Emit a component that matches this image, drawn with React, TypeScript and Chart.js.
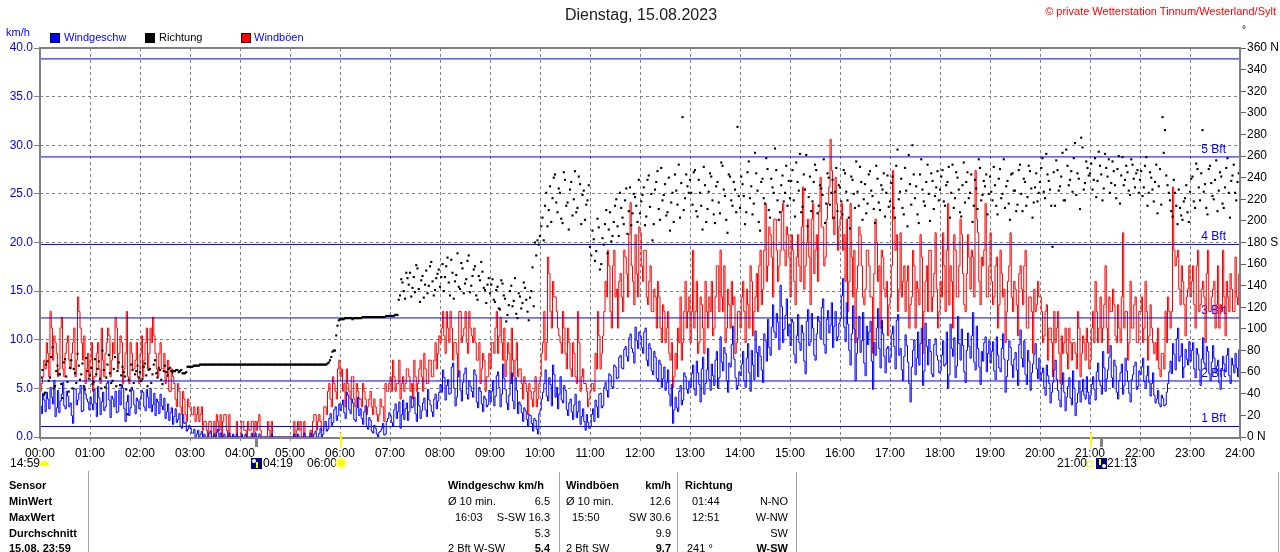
import React, { useEffect, useRef } from 'react';
import { Chart, registerables } from 'chart.js';

Chart.register(...registerables);

// ---------- DATA ----------
// Samples every 3 minutes (00:00, 00:03, ...) plus the readings taken
// half-way in between (00:01:30, 00:04:30, ...).
const STEP_MIN = 3;

// Windgeschwindigkeit km/h (full 3-minute marks)
const windSpeed: number[] = [
  3.2, 4.5, 2.6, 3.9, 5.1, 3.4, 2.1, 4.8, 3.7, 5.6, 2.9, 4.2, 3.5, 1.4, 4.9, 3.8, 5.3, 2.7, 4.4, 3.6,
  4.1, 2.8, 3.5, 5.2, 2.3, 4.6, 3.1, 5.7, 2.0, 3.9, 4.7, 2.6, 3.3, 5.0, 1.6, 4.3, 3.0, 4.8, 2.4, 3.7,
  3.9, 4.6, 2.7, 4.1, 5.0, 3.3, 2.2, 3.6, 4.4, 2.8, 1.9, 3.4, 2.5, 1.3, 2.9, 1.8, 1.1, 2.3, 1.5, 0.8,
  0.9, 0.4, 0.0, 0.7, 0.3, 0.0, 0.0, 0.0, 0.6, 0.0, 0.0, 0.8, 0.4, 0.0, 0.0, 0.0, 0.0, 0.3, 0.0, 0.0,
  0.0, 0.0, 0.3, 0.0, 0.0, 0.0, 0.4, 0.0, 0.0, 0.0, 0.0, 0.0, 0.0, 0.0, 0.0, 0.0, 0.0, 0.0, 0.0, 0.0,
  0.0, 0.0, 0.0, 0.3, 0.0, 0.0, 0.0, 0.0, 0.4, 0.0, 0.6, 0.0, 0.9, 0.3, 1.6, 0.8, 2.4, 1.5, 3.1, 2.2,
  2.7, 3.8, 1.9, 4.3, 2.4, 3.5, 1.6, 4.1, 2.9, 1.3, 3.2, 0.8, 1.7, 0.4, 0.9, 0.0, 0.6, 1.4, 0.3, 1.9,
  2.2, 1.1, 3.4, 2.6, 0.9, 3.8, 2.9, 1.7, 4.2, 3.1, 2.4, 4.6, 1.9, 3.5, 2.8, 4.9, 3.3, 2.1, 4.4, 3.7,
  5.4, 6.9, 3.8, 5.9, 4.5, 7.6, 3.2, 6.2, 4.8, 5.6, 7.1, 3.9, 5.2, 4.1, 6.4, 3.0, 4.7, 2.6, 3.9, 3.3,
  3.6, 5.8, 4.2, 6.7, 3.1, 7.5, 4.9, 2.8, 5.5, 3.7, 6.1, 2.4, 3.3, 1.6, 2.7, 1.1, 2.2, 0.6, 1.7, 0.3,
  2.8, 4.6, 6.9, 3.7, 5.4, 7.4, 4.1, 2.9, 6.2, 3.5, 4.8, 2.2, 3.9, 1.8, 4.4, 2.6, 1.3, 2.9, 0.7, 1.5,
  1.1, 2.9, 3.8, 2.0, 4.5, 3.2, 5.6, 4.1, 6.3, 5.0, 7.2, 6.1, 8.4, 7.0, 9.3, 7.8, 10.6, 8.7, 11.3, 9.1,
  10.4, 8.6, 11.2, 7.3, 9.1, 6.4, 8.2, 5.7, 7.5, 6.0, 4.8, 6.9, 3.2, 1.4, 4.1, 2.6, 5.3, 3.8, 6.2, 4.5,
  5.1, 7.4, 4.3, 6.6, 3.6, 8.2, 5.5, 9.1, 4.8, 6.3, 7.9, 5.0, 10.3, 6.8, 8.6, 4.6, 7.2, 11.4, 6.1, 5.3,
  6.3, 8.8, 5.1, 9.6, 4.7, 7.4, 10.9, 6.2, 8.3, 5.6, 9.9, 12.1, 8.4, 13.6, 10.2, 11.8, 15.6, 9.7, 12.5, 10.4,
  9.4, 11.8, 7.6, 12.6, 8.9, 10.7, 6.5, 13.1, 9.8, 11.2, 7.9, 12.4, 10.1, 14.2, 8.6, 13.0, 11.5, 9.2, 12.9, 10.3,
  12.2, 16.3, 9.8, 11.6, 7.4, 13.5, 5.8, 10.2, 8.7, 12.8, 6.3, 9.5, 11.9, 4.9, 8.4, 13.2, 7.1, 10.6, 6.6, 9.3,
  8.2, 11.4, 7.0, 12.6, 9.1, 5.8, 10.5, 7.7, 3.6, 8.9, 6.4, 10.8, 9.6, 5.3, 11.7, 7.4, 8.8, 6.2, 10.1, 7.9,
  6.8, 9.9, 7.5, 5.0, 11.6, 8.3, 6.1, 12.4, 7.9, 9.4, 5.6, 10.7, 8.1, 12.8, 6.9, 9.1, 5.4, 7.8, 10.3, 8.6,
  7.6, 9.8, 5.9, 8.4, 6.7, 10.6, 4.6, 7.9, 9.2, 6.1, 8.7, 5.3, 11.0, 7.2, 6.4, 8.9, 4.8, 7.5, 9.6, 6.0,
  5.8, 7.1, 4.3, 6.3, 3.5, 5.6, 7.9, 4.8, 3.1, 6.6, 2.7, 5.2, 4.0, 6.8, 2.2, 4.5, 3.6, 5.9, 3.9, 4.6,
  4.3, 6.2, 3.8, 7.6, 5.3, 8.8, 4.7, 6.9, 9.4, 5.1, 7.3, 3.9, 6.6, 4.4, 8.1, 5.7, 3.6, 6.4, 7.7, 5.2,
  6.4, 8.1, 5.0, 7.3, 4.2, 6.6, 3.5, 4.8, 3.1, 4.0, 3.3, 5.5, 7.8, 9.6, 6.9, 11.2, 8.3, 6.1, 9.0, 7.4,
  7.8, 9.7, 6.1, 8.5, 5.3, 10.2, 7.0, 8.8, 5.8, 9.4, 6.6, 7.9, 4.9, 8.3, 6.7, 9.1, 5.5, 7.4, 8.6, 6.2,
];

// Windgeschwindigkeit km/h (half-way readings)
const windSpeedMid: number[] = [
  2.4, 3.8, 4.6, 2.9, 4.1, 5.8, 3.0, 2.5, 4.4, 3.2, 4.7, 3.1, 2.2, 5.0, 3.3, 4.5, 2.6, 5.2, 3.9, 2.8,
  3.4, 4.9, 2.1, 4.0, 3.6, 2.7, 5.5, 3.8, 4.2, 3.1, 2.5, 4.8, 5.4, 2.9, 3.6, 2.2, 5.1, 3.3, 4.0, 2.9,
  4.8, 3.1, 4.9, 3.0, 2.6, 4.5, 3.9, 2.4, 3.2, 4.0, 2.6, 1.7, 3.0, 2.1, 1.5, 2.4, 0.9, 1.4, 0.6, 1.2,
  0.4, 0.8, 0.3, 0.0, 0.6, 0.3, 0.0, 0.4, 0.0, 0.3, 0.5, 0.0, 0.0, 0.3, 0.0, 0.4, 0.0, 0.0, 0.3, 0.0,
  0.3, 0.0, 0.0, 0.0, 0.4, 0.0, 0.0, 0.3, 0.0, 0.0, 0.0, 0.0, 0.3, 0.0, 0.0, 0.0, 0.0, 0.0, 0.0, 0.0,
  0.0, 0.3, 0.0, 0.0, 0.0, 0.4, 0.0, 0.0, 0.0, 0.3, 0.0, 0.4, 0.0, 1.1, 0.6, 1.9, 1.2, 2.8, 1.7, 3.4,
  3.3, 2.5, 4.6, 2.8, 3.9, 1.8, 3.0, 2.2, 1.9, 2.6, 1.1, 2.0, 0.6, 1.2, 0.3, 0.5, 0.9, 0.2, 1.6, 2.5,
  1.5, 2.8, 1.9, 3.6, 2.3, 1.8, 3.5, 2.6, 3.0, 4.1, 1.6, 3.2, 2.7, 4.0, 2.1, 3.8, 2.6, 3.9, 2.9, 4.6,
  4.6, 6.1, 5.3, 4.4, 7.2, 5.0, 4.1, 6.8, 3.7, 6.5, 4.4, 5.8, 4.7, 6.9, 3.6, 5.1, 3.4, 4.2, 3.1, 4.8,
  4.7, 3.2, 6.3, 5.1, 4.4, 6.0, 3.5, 4.3, 6.6, 2.9, 4.8, 3.6, 2.5, 3.0, 1.8, 2.3, 1.4, 1.9, 0.8, 2.4,
  3.9, 5.5, 4.2, 6.1, 3.2, 6.4, 5.1, 4.4, 3.8, 5.3, 2.8, 3.5, 2.6, 3.3, 2.0, 3.7, 2.1, 1.6, 2.3, 0.9,
  2.3, 1.6, 3.1, 4.4, 3.0, 5.1, 4.8, 6.5, 5.2, 7.4, 6.0, 8.2, 7.1, 9.0, 8.3, 10.2, 9.1, 7.6, 9.9, 10.8,
  9.2, 10.8, 7.9, 9.6, 6.8, 8.8, 6.0, 7.9, 5.1, 7.2, 5.6, 4.4, 5.4, 2.8, 3.0, 4.7, 3.3, 6.6, 4.9, 5.7,
  6.5, 4.9, 7.8, 5.4, 7.0, 4.4, 6.9, 5.9, 7.5, 5.3, 8.8, 6.1, 7.7, 9.2, 5.8, 7.6, 9.5, 8.0, 4.9, 6.7,
  7.5, 5.8, 8.1, 6.6, 8.9, 5.9, 8.7, 9.3, 6.9, 10.6, 7.8, 9.2, 11.3, 10.8, 12.7, 9.0, 13.4, 11.1, 14.2, 11.6,
  12.1, 8.5, 10.4, 9.7, 11.5, 7.8, 11.9, 9.4, 12.7, 8.4, 10.6, 11.9, 13.3, 9.5, 12.1, 10.7, 13.8, 11.4, 9.9, 11.7,
  14.5, 11.3, 13.8, 8.9, 10.6, 11.1, 8.6, 12.4, 9.9, 7.6, 11.4, 10.8, 7.8, 9.7, 11.2, 9.1, 12.0, 8.3, 9.1, 7.7,
  10.6, 9.3, 12.0, 8.4, 6.9, 8.3, 9.4, 5.5, 7.2, 10.0, 8.1, 7.4, 11.2, 6.8, 9.3, 10.0, 6.5, 9.5, 8.4, 6.6,
  8.4, 7.3, 10.8, 6.4, 9.1, 10.2, 7.3, 9.6, 11.1, 6.7, 8.9, 9.3, 10.4, 7.7, 11.4, 7.2, 8.8, 9.7, 6.7, 9.9,
  8.8, 6.8, 10.3, 7.1, 9.1, 8.0, 6.2, 9.9, 7.4, 8.0, 6.9, 9.5, 8.1, 9.9, 5.4, 7.8, 6.6, 8.5, 7.0, 8.1,
  6.6, 5.1, 7.4, 5.5, 4.6, 6.9, 5.9, 3.8, 5.4, 4.6, 4.1, 6.1, 3.3, 5.0, 3.5, 5.7, 4.7, 4.3, 6.2, 3.4,
  5.4, 4.9, 6.7, 5.8, 4.4, 7.1, 6.0, 8.2, 6.1, 7.9, 4.6, 5.8, 7.5, 5.3, 6.8, 4.5, 5.9, 7.3, 4.9, 6.8,
  7.2, 5.7, 6.3, 5.6, 5.5, 4.3, 3.9, 3.4, 4.3, 3.2, 4.6, 6.7, 6.5, 8.5, 10.1, 7.8, 9.6, 7.2, 8.0, 9.8,
  8.9, 7.0, 9.1, 6.9, 8.0, 7.6, 9.3, 6.5, 7.7, 8.1, 7.3, 5.6, 6.9, 7.5, 8.4, 6.3, 8.1, 6.6, 7.1, 9.0,
];

// Windböen km/h (full 3-minute marks)
const windGust: number[] = [
  4.7, 6.2, 7.0, 8.6, 12.9, 7.9, 9.7, 6.2, 11.2, 7.0, 8.6, 10.4, 7.0, 9.7, 6.2, 14.4, 11.2, 7.9, 5.5, 8.6,
  7.9, 4.7, 6.2, 9.7, 5.5, 7.9, 8.6, 11.2, 6.2, 9.7, 12.3, 7.0, 10.4, 5.5, 8.6, 6.2, 9.7, 7.0, 7.9, 6.2,
  8.6, 6.2, 9.7, 7.0, 11.2, 12.3, 8.6, 6.2, 9.7, 7.0, 5.5, 7.9, 4.7, 6.2, 3.9, 5.5, 3.1, 4.7, 2.3, 3.9,
  3.1, 2.3, 1.6, 3.1, 2.3, 0.7, 1.6, 0.0, 1.6, 0.0, 0.0, 1.6, 2.3, 1.6, 2.3, 0.0, 0.0, 0.0, 0.0, 0.0,
  0.0, 1.6, 0.7, 1.6, 0.7, 1.6, 1.6, 1.6, 0.7, 0.0, 0.0, 1.6, 0.0, 0.0, 0.0, 0.0, 0.0, 0.0, 0.0, 0.0,
  0.0, 0.0, 0.0, 1.6, 1.6, 0.0, 0.0, 0.0, 0.7, 1.6, 2.3, 1.6, 1.6, 0.7, 3.1, 4.7, 3.9, 6.2, 4.7, 7.0,
  6.2, 4.7, 3.1, 5.5, 3.9, 6.2, 3.1, 4.7, 3.9, 5.5, 3.9, 3.1, 4.7, 2.3, 3.1, 1.6, 3.9, 3.1, 5.5, 4.7,
  6.2, 7.9, 4.7, 5.5, 3.9, 6.2, 5.5, 7.0, 4.7, 3.9, 6.2, 5.5, 7.9, 4.7, 7.0, 5.5, 7.9, 6.2, 9.7, 8.6,
  9.7, 12.9, 8.6, 11.2, 12.9, 7.9, 9.7, 6.2, 12.9, 10.4, 12.9, 8.6, 11.2, 9.7, 9.7, 7.9, 5.5, 8.6, 4.7, 6.2,
  7.0, 9.7, 11.2, 8.6, 12.3, 7.9, 6.2, 9.7, 5.5, 7.9, 7.9, 6.2, 7.0, 3.9, 5.5, 2.3, 4.7, 3.1, 6.2, 3.9,
  6.2, 9.7, 7.9, 18.5, 12.9, 16.0, 14.4, 11.2, 9.7, 12.9, 8.6, 11.2, 7.0, 9.7, 6.2, 12.9, 4.7, 7.0, 5.5, 3.1,
  4.7, 5.5, 8.6, 12.9, 7.0, 10.4, 16.0, 19.2, 12.9, 17.6, 14.4, 11.2, 16.8, 12.9, 18.5, 14.4, 24.1, 16.0, 20.8, 14.4,
  21.0, 16.0, 19.2, 13.6, 17.6, 12.9, 14.4, 16.0, 11.2, 13.6, 9.7, 12.9, 7.9, 5.1, 8.6, 11.2, 14.4, 9.7, 16.0, 12.9,
  9.7, 19.2, 12.9, 8.6, 14.4, 11.2, 16.0, 11.2, 12.9, 10.4, 14.4, 17.6, 19.2, 12.9, 9.7, 15.2, 11.2, 13.6, 8.6, 12.9,
  11.2, 16.0, 9.7, 13.6, 17.6, 10.4, 14.4, 12.9, 19.2, 15.2, 24.0, 17.6, 20.8, 14.4, 22.4, 16.0, 19.2, 24.0, 17.6, 20.8,
  14.4, 19.2, 13.6, 20.8, 16.0, 25.7, 17.6, 22.4, 13.6, 24.0, 19.2, 16.0, 26.7, 21.6, 18.5, 24.0, 30.6, 22.4, 26.7, 19.2,
  22.4, 19.2, 16.0, 12.9, 24.0, 14.4, 9.7, 17.6, 20.8, 14.4, 15.2, 19.2, 14.4, 8.6, 22.4, 16.0, 11.2, 18.5, 14.4, 10.4,
  14.4, 27.4, 19.2, 12.9, 21.0, 16.0, 12.9, 17.6, 13.6, 19.2, 11.2, 15.2, 20.8, 8.6, 16.0, 12.9, 19.2, 14.4, 21.0, 11.2,
  16.0, 21.0, 12.9, 24.0, 17.6, 11.2, 19.2, 14.4, 22.4, 16.8, 12.9, 20.8, 15.2, 18.5, 27.4, 21.0, 13.6, 17.6, 24.0, 14.4,
  21.0, 13.6, 17.6, 11.2, 19.2, 14.4, 9.7, 16.0, 21.0, 12.9, 15.2, 10.4, 17.6, 13.6, 19.2, 11.2, 14.4, 8.6, 12.9, 16.0,
  14.4, 9.7, 12.9, 7.9, 11.2, 6.2, 9.7, 12.9, 5.5, 8.6, 11.2, 7.0, 9.7, 9.7, 8.6, 12.9, 6.2, 10.4, 7.9, 9.7,
  7.9, 12.9, 16.0, 9.7, 14.4, 11.2, 17.6, 8.6, 12.9, 15.2, 10.4, 13.6, 9.7, 21.0, 12.9, 7.9, 16.0, 11.2, 14.4, 9.7,
  12.9, 9.7, 16.0, 7.9, 13.6, 9.7, 9.7, 11.2, 6.2, 8.6, 12.9, 14.4, 11.2, 25.7, 17.6, 19.2, 13.6, 16.0, 10.4, 15.2,
  14.4, 17.6, 11.2, 19.2, 13.6, 16.0, 9.7, 19.2, 12.9, 15.2, 11.2, 17.6, 13.6, 19.2, 10.4, 14.4, 16.8, 12.9, 18.5, 13.6,
];

// Windböen km/h (half-way readings)
const windGustMid: number[] = [
  5.5, 7.9, 9.7, 6.2, 11.2, 10.4, 8.6, 7.0, 12.3, 6.2, 9.7, 7.9, 8.6, 11.2, 7.9, 12.9, 9.7, 10.4, 7.0, 6.2,
  9.7, 6.2, 8.6, 7.0, 11.2, 6.2, 9.7, 10.4, 7.9, 8.6, 11.2, 8.6, 9.7, 7.0, 12.9, 5.5, 8.6, 7.0, 9.7, 5.5,
  10.4, 7.9, 11.2, 8.6, 9.7, 10.4, 7.0, 8.6, 7.0, 8.6, 6.2, 4.7, 7.0, 5.5, 3.1, 4.7, 2.3, 3.9, 1.6, 3.1,
  2.3, 3.1, 2.3, 1.6, 3.1, 1.6, 0.7, 1.6, 0.0, 1.6, 2.3, 0.7, 0.0, 2.3, 0.7, 2.3, 0.0, 0.0, 1.6, 0.0,
  1.6, 0.7, 0.0, 0.7, 1.6, 0.0, 0.7, 2.3, 0.0, 0.0, 0.0, 0.7, 1.6, 0.0, 0.0, 0.0, 0.0, 0.0, 0.0, 0.0,
  0.0, 1.6, 0.7, 0.7, 0.0, 1.6, 0.0, 0.0, 0.0, 2.3, 0.7, 2.3, 0.7, 3.1, 2.3, 5.5, 3.1, 5.5, 3.9, 7.9,
  7.0, 5.5, 7.0, 4.7, 6.2, 3.9, 5.5, 3.9, 3.1, 4.7, 2.3, 3.9, 3.1, 3.9, 2.3, 2.3, 3.1, 1.6, 4.7, 5.5,
  4.7, 6.2, 5.5, 7.9, 5.5, 4.7, 7.0, 6.2, 5.5, 7.9, 4.7, 7.0, 6.2, 8.6, 5.5, 7.9, 6.2, 7.9, 7.0, 10.4,
  11.2, 10.4, 12.9, 9.7, 11.2, 9.7, 8.6, 12.9, 9.7, 11.2, 9.7, 12.9, 10.4, 11.2, 7.9, 9.7, 7.0, 7.9, 6.2, 8.6,
  9.7, 8.6, 12.9, 10.4, 9.7, 11.2, 7.9, 8.6, 11.2, 6.2, 9.7, 7.0, 5.5, 6.2, 4.7, 5.5, 3.9, 4.7, 3.1, 5.5,
  8.6, 12.9, 9.7, 16.8, 11.2, 14.4, 12.9, 10.4, 8.6, 11.2, 7.0, 9.7, 6.2, 8.6, 5.5, 9.7, 6.2, 5.5, 4.7, 3.9,
  5.5, 4.7, 7.0, 10.4, 8.6, 12.9, 14.4, 17.6, 11.2, 19.2, 15.2, 16.0, 14.4, 19.2, 16.8, 20.8, 17.6, 13.6, 16.8, 21.6,
  17.6, 19.2, 14.4, 16.0, 12.9, 15.2, 11.2, 14.4, 9.7, 12.9, 11.2, 8.6, 9.7, 6.2, 7.0, 9.7, 7.9, 12.9, 11.2, 14.4,
  12.9, 11.2, 16.0, 9.7, 13.6, 8.6, 12.9, 14.4, 16.0, 11.2, 17.6, 12.9, 14.4, 17.6, 11.2, 13.6, 16.0, 14.4, 9.7, 12.9,
  14.4, 12.9, 15.2, 11.2, 16.0, 12.9, 16.8, 17.6, 13.6, 19.2, 16.0, 21.6, 18.5, 22.4, 19.2, 17.6, 23.2, 19.2, 21.6, 18.5,
  20.8, 16.0, 18.5, 17.6, 21.6, 15.2, 20.0, 18.5, 22.4, 16.8, 20.8, 23.2, 21.6, 17.6, 22.4, 25.7, 27.4, 20.8, 24.0, 21.6,
  24.0, 20.8, 22.4, 16.0, 18.5, 19.2, 15.2, 21.6, 17.6, 13.6, 19.2, 17.6, 14.4, 16.8, 20.0, 17.6, 19.2, 15.2, 16.0, 13.6,
  17.6, 22.4, 20.8, 15.2, 14.4, 17.6, 16.0, 11.2, 14.4, 17.6, 16.0, 13.6, 18.5, 12.9, 17.6, 19.2, 12.9, 16.8, 15.2, 12.9,
  14.4, 17.6, 19.2, 13.6, 16.0, 20.8, 14.4, 17.6, 20.8, 13.6, 16.8, 18.5, 19.2, 14.4, 22.4, 16.0, 18.5, 19.2, 14.4, 17.6,
  16.0, 14.4, 18.5, 13.6, 16.8, 15.2, 12.9, 17.6, 14.4, 16.0, 13.6, 16.8, 15.2, 17.6, 11.2, 14.4, 12.9, 15.2, 13.6, 14.4,
  12.9, 10.4, 13.6, 11.2, 9.7, 12.9, 11.2, 8.6, 10.4, 9.7, 8.6, 11.2, 7.9, 9.7, 7.0, 11.2, 8.6, 9.7, 11.2, 7.0,
  11.2, 9.7, 12.9, 11.2, 9.7, 13.6, 11.2, 14.4, 12.9, 13.6, 9.7, 11.2, 14.4, 11.2, 12.9, 9.7, 11.2, 13.6, 9.7, 12.9,
  14.4, 11.2, 12.9, 10.4, 11.2, 8.6, 7.9, 7.0, 8.6, 7.0, 9.7, 12.9, 12.9, 19.2, 18.5, 15.2, 17.6, 13.6, 14.4, 17.6,
  16.0, 13.6, 17.6, 12.9, 15.2, 14.4, 16.8, 12.9, 14.4, 16.0, 13.6, 11.2, 12.9, 14.4, 16.0, 12.9, 15.2, 12.9, 14.4, 16.8,
];

// Windrichtung Grad (full 3-minute marks)
const windDir: number[] = [
  48, 62, 41, 70, 55, 83, 47, 66, 58, 36, 72, 51, 64, 45, 59, 77, 53, 68, 44, 61,
  57, 49, 72, 63, 54, 80, 46, 67, 59, 52, 74, 61, 48, 65, 56, 21, 43, 62, 58, 66,
  60, 54, 68, 47, 63, 58, 71, 55, 62, 49, 66, 57, 64, 60, 61, 62, 61, 59, 59, 65,
  65, 65, 66, 66, 67, 67, 67, 67, 67, 67, 67, 67, 67, 67, 67, 67, 67, 67, 67, 67,
  67, 67, 67, 67, 67, 67, 67, 67, 67, 67, 67, 67, 67, 67, 67, 67, 67, 67, 67, 67,
  67, 67, 67, 67, 67, 67, 67, 67, 67, 67, 67, 67, 67, 67, 67, 68, 71, 79, 80, 103,
  109, 109, 110, 110, 110, 109, 110, 110, 110, 111, 111, 111, 111, 111, 111, 111, 111, 111, 111, 112,
  112, 112, 113, 113, 131, 143, 128, 147, 152, 138, 134, 156, 125, 149, 141, 133, 158, 144, 136, 151,
  139, 160, 148, 166, 131, 152, 144, 170, 137, 156, 142, 163, 134, 149, 158, 127, 145, 153, 136, 141,
  133, 146, 125, 139, 118, 142, 128, 113, 135, 121, 147, 110, 130, 124, 138, 116, 129, 157, 180, 182,
  186, 203, 214, 195, 232, 221, 243, 208, 226, 198, 238, 217, 229, 205, 246, 212, 234, 224, 201, 219,
  176, 191, 163, 202, 155, 184, 197, 170, 208, 186, 214, 195, 226, 203, 219, 188, 231, 207, 222, 199,
  207, 224, 196, 238, 213, 182, 229, 246, 201, 219, 234, 208, 191, 226, 243, 215, 203, 296, 221, 232,
  238, 215, 247, 204, 226, 192, 233, 211, 244, 219, 198, 236, 207, 251, 223, 189, 241, 214, 229, 287,
  212, 234, 197, 245, 221, 206, 263, 228, 191, 239, 216, 248, 203, 231, 267, 219, 208, 242, 226, 214,
  221, 247, 204, 236, 262, 213, 229, 195, 241, 218, 252, 207, 233, 224, 198, 244, 215, 238, 227, 209,
  231, 206, 244, 219, 193, 238, 212, 227, 250, 201, 234, 216, 246, 223, 198, 239, 210, 229, 204, 242,
  218, 241, 203, 266, 227, 212, 249, 195, 234, 270, 221, 206, 243, 229, 214, 252, 200, 237, 223, 246,
  229, 247, 214, 236, 203, 252, 221, 240, 208, 233, 217, 245, 226, 199, 238, 211, 249, 224, 232, 206,
  241, 219, 233, 206, 248, 225, 212, 237, 201, 244, 228, 215, 252, 209, 236, 222, 246, 203, 231, 218,
  236, 258, 221, 243, 229, 176, 214, 247, 232, 263, 219, 251, 238, 227, 272, 244, 211, 268, 235, 249,
  244, 229, 258, 237, 251, 219, 262, 241, 226, 255, 233, 248, 216, 259, 238, 245, 224, 252, 231, 247,
  238, 223, 251, 214, 245, 229, 236, 207, 248, 296, 284, 233, 219, 204, 226, 197, 212, 201, 221, 208,
  227, 241, 212, 248, 219, 284, 234, 206, 251, 223, 238, 209, 245, 216, 231, 258, 203, 242, 226, 236,
];

// Windrichtung Grad (half-way readings)
const windDirMid: number[] = [
  55, 39, 67, 52, 74, 45, 61, 58, 49, 69, 56, 42, 71, 63, 50, 66, 58, 47, 73, 54,
  64, 51, 58, 70, 45, 62, 55, 76, 50, 63, 47, 69, 57, 60, 44, 53, 67, 50, 61, 55,
  52, 65, 57, 62, 50, 67, 59, 64, 53, 61, 60, 63, 61, 61, 62, 60, 62, 59, 60, 65,
  65, 66, 66, 66, 67, 67, 67, 67, 67, 67, 67, 67, 67, 67, 67, 67, 67, 67, 67, 67,
  67, 67, 67, 67, 67, 67, 67, 67, 67, 67, 67, 67, 67, 67, 67, 67, 67, 67, 67, 67,
  67, 67, 67, 67, 67, 67, 67, 67, 67, 67, 67, 67, 67, 67, 67, 69, 74, 80, 94, 108,
  109, 109, 110, 110, 110, 110, 110, 110, 110, 111, 111, 111, 111, 111, 111, 111, 111, 111, 112, 112,
  112, 112, 113, 127, 146, 135, 152, 141, 130, 148, 159, 137, 145, 129, 154, 140, 162, 131, 147, 155,
  148, 135, 158, 143, 164, 128, 150, 139, 161, 133, 146, 168, 140, 155, 131, 149, 162, 138, 124, 147,
  141, 127, 136, 119, 145, 131, 107, 122, 140, 126, 114, 133, 119, 143, 127, 108, 135, 121, 168, 178,
  195, 182, 226, 210, 199, 240, 217, 230, 202, 245, 214, 192, 236, 220, 208, 241, 197, 228, 215, 233,
  168, 183, 172, 194, 160, 178, 210, 192, 181, 199, 220, 186, 212, 197, 230, 209, 196, 225, 214, 238,
  218, 231, 204, 242, 225, 197, 236, 211, 249, 224, 205, 240, 217, 199, 228, 252, 235, 210, 243, 226,
  226, 245, 209, 238, 214, 250, 199, 227, 241, 206, 232, 217, 254, 229, 201, 243, 219, 236, 208, 223,
  241, 223, 208, 255, 232, 216, 244, 199, 236, 221, 258, 210, 239, 226, 247, 201, 233, 218, 251, 237,
  237, 219, 254, 228, 208, 243, 261, 222, 209, 236, 247, 214, 230, 257, 216, 240, 226, 203, 249, 233,
  218, 247, 227, 203, 241, 225, 255, 214, 236, 220, 207, 243, 228, 211, 251, 217, 233, 244, 226, 213,
  235, 212, 251, 220, 239, 206, 228, 261, 215, 243, 232, 198, 257, 218, 236, 225, 244, 211, 231, 219,
  241, 218, 233, 250, 226, 212, 245, 229, 204, 254, 236, 221, 243, 214, 230, 257, 219, 237, 243, 225,
  227, 250, 214, 239, 221, 257, 232, 216, 243, 228, 209, 247, 225, 239, 214, 251, 230, 217, 244, 226,
  249, 227, 262, 237, 214, 245, 256, 228, 241, 219, 266, 233, 246, 258, 224, 239, 277, 229, 255, 242,
  253, 238, 222, 264, 243, 230, 249, 257, 235, 246, 221, 260, 242, 233, 251, 228, 257, 239, 244, 226,
  246, 231, 259, 226, 240, 218, 252, 232, 215, 263, 242, 226, 209, 238, 214, 229, 205, 218, 233, 199,
  239, 218, 253, 231, 244, 227, 212, 248, 235, 220, 256, 228, 241, 212, 249, 226, 237, 252, 219, 244,
];

// Beaufort thresholds (km/h) and labels
const bftLevels = [1.08, 5.76, 12.24, 19.8, 28.8, 38.88];
const bftLabels = ['1 Bft', '2 Bft', '3 Bft', '4 Bft', '5 Bft', ''];

// Sun / moon marks on the time axis (minutes of the day)
const sunMarks = [360, 1260];
const moonMarks = [259, 1273];

// Table
const rowLabels = ['Sensor', 'MinWert', 'MaxWert', 'Durchschnitt', '15.08. 23:59'];
const speedLeft = ['Windgeschw km/h', 'Ø 10 min.', '16:03', '', '2 Bft W-SW'];
const speedRight = ['', '6.5', 'S-SW 16.3', '5.3', '5.4'];
const gustLeft = ['Windböen', 'Ø 10 min.', '15:50', '', '2 Bft SW'];
const gustRight = ['km/h', '12.6', 'SW 30.6', '9.9', '9.7'];
const dirLeft = ['Richtung', '01:44', '12:51', '', '241 °'];
const dirRight = ['', 'N-NO', 'W-NW', 'SW', 'W-SW'];

// ---------- STYLE ----------
const FONT = "'Liberation Sans', Arial, sans-serif";
const AXIS_FONT = "'Liberation Sans Narrow', 'Liberation Sans', Arial, sans-serif";

const decorPlugin = {
  id: 'decor',
  beforeDatasetsDraw(chart: any) {
    const { ctx, chartArea, scales } = chart;
    ctx.save();
    ctx.font = `12px ${AXIS_FONT}`;
    ctx.fillStyle = '#0000FF';
    ctx.textAlign = 'right';
    ctx.textBaseline = 'alphabetic';
    bftLevels.forEach((lv, i) => {
      if (!bftLabels[i]) return;
      const y = scales.y.getPixelForValue(lv);
      ctx.fillText(bftLabels[i], chartArea.right - 14, y - 4);
    });
    ctx.restore();
  },
  afterDraw(chart: any) {
    const { ctx, chartArea, scales } = chart;
    ctx.save();
    ctx.strokeStyle = '#808080';
    ctx.lineWidth = 2;
    ctx.strokeRect(chartArea.left, chartArea.top, chartArea.right - chartArea.left, chartArea.bottom - chartArea.top + 1);
    moonMarks.forEach((m) => {
      const x = Math.round(scales.x.getPixelForValue(m));
      ctx.fillStyle = '#808080';
      ctx.fillRect(x - 1, chartArea.bottom, 3, 10);
    });
    sunMarks.forEach((m) => {
      const x = Math.round(scales.x.getPixelForValue(m));
      ctx.fillStyle = '#FFFF00';
      ctx.fillRect(x, chartArea.bottom - 4, 2, 14);
    });
    ctx.restore();
  },
};

const abs = (left: number, top: number, extra: React.CSSProperties = {}): React.CSSProperties => ({
  position: 'absolute',
  left,
  top,
  whiteSpace: 'nowrap',
  ...extra,
});

const ROW_Y = [485, 501, 517, 533, 548];

const interleave = (full: number[], mid: number[]) => {
  const out: { x: number; y: number }[] = [];
  full.forEach((v, i) => {
    out.push({ x: i * STEP_MIN, y: v });
    if (i < mid.length) out.push({ x: i * STEP_MIN + STEP_MIN / 2, y: mid[i] });
  });
  return out;
};

export default function App() {
  const ref = useRef<HTMLCanvasElement>(null);

  useEffect(() => {
    const canvas = ref.current;
    if (!canvas) return;
    const chart = new Chart(canvas, {
      type: 'line',
      data: {
        datasets: [
          {
            label: 'Windböen',
            data: interleave(windGust, windGustMid),
            borderColor: '#FF0000',
            borderWidth: 1,
            pointRadius: 0,
            stepped: true,
            order: 4,
            yAxisID: 'y',
          },
          {
            label: 'Windgeschw',
            data: interleave(windSpeed, windSpeedMid),
            borderColor: '#0000FF',
            borderWidth: 1,
            pointRadius: 0,
            stepped: true,
            order: 3,
            yAxisID: 'y',
          },
          ...bftLevels.map((v) => ({
            label: 'Bft',
            data: [
              { x: 0, y: v },
              { x: 1440, y: v },
            ],
            borderColor: '#0000FF',
            borderWidth: 1,
            pointRadius: 0,
            order: 2,
            yAxisID: 'y',
          })),
          {
            label: 'Richtung',
            data: interleave(windDir, windDirMid),
            showLine: false,
            pointStyle: 'rect',
            pointRadius: 1.5,
            pointBorderWidth: 0,
            pointBackgroundColor: '#000000',
            borderColor: '#000000',
            backgroundColor: '#000000',
            order: 1,
            yAxisID: 'y2',
          },
        ] as any,
      },
      options: {
        animation: false,
        responsive: false,
        devicePixelRatio: 1,
        events: [],
        layout: { padding: { top: 48, left: 0, right: 0, bottom: 0 } },
        plugins: { legend: { display: false }, tooltip: { enabled: false } },
        scales: {
          x: {
            type: 'linear',
            min: 0,
            max: 1440,
            afterFit: (s: any) => {
              s.height = 115;
            },
            ticks: {
              stepSize: 60,
              autoSkip: false,
              maxRotation: 0,
              color: '#000000',
              padding: 5,
              font: { family: AXIS_FONT, size: 12 },
              callback: (v: any) => String(Math.round(Number(v) / 60)).padStart(2, '0') + ':00',
            },
            grid: {
              color: '#808080',
              lineWidth: 1,
              tickLength: 4,
              tickColor: '#808080',
              tickBorderDash: [],
            },
            border: { display: false, dash: [3, 3] },
          },
          y: {
            type: 'linear',
            position: 'left',
            min: 0,
            max: 40,
            afterFit: (s: any) => {
              s.width = 40;
            },
            ticks: {
              stepSize: 5,
              color: '#0000FF',
              padding: 1,
              font: { family: AXIS_FONT, size: 12 },
              callback: (v: any) => Number(v).toFixed(1),
            },
            grid: {
              color: '#808080',
              lineWidth: 1,
              tickLength: 6,
              tickColor: '#808080',
              tickBorderDash: [],
            },
            border: { display: false, dash: [3, 3] },
          },
          y2: {
            type: 'linear',
            position: 'right',
            min: 0,
            max: 360,
            afterFit: (s: any) => {
              s.width = 40;
            },
            ticks: {
              stepSize: 20,
              color: '#000000',
              padding: 1,
              font: { family: AXIS_FONT, size: 12 },
              callback: (v: any) => {
                const n = Number(v);
                if (n === 0 || n === 360) return `${n} N`;
                if (n === 180) return '180 S';
                return String(n);
              },
            },
            grid: {
              drawOnChartArea: false,
              color: '#606060',
              tickLength: 6,
              tickColor: '#606060',
            },
            border: { display: false },
          },
        },
      } as any,
      plugins: [decorPlugin],
    });
    return () => chart.destroy();
  }, []);

  const t11: React.CSSProperties = { fontSize: 11, lineHeight: '13px' };
  const rowTop = (i: number) => ROW_Y[i] - 6.5;

  return (
    <div
      style={{
        position: 'absolute',
        left: 0,
        top: 0,
        width: 1280,
        height: 552,
        overflow: 'hidden',
        background: '#ffffff',
        fontFamily: FONT,
        color: '#000',
      }}
    >
      <canvas ref={ref} width={1280} height={552} style={{ position: 'absolute', left: 0, top: 0 }} />

      {/* Title + copyright */}
      <div style={abs(441, 6, { width: 400, textAlign: 'center', fontSize: 16, lineHeight: '18px', color: '#202020' })}>
        Dienstag, 15.08.2023
      </div>
      <div style={{ position: 'absolute', right: 4, top: 5, fontSize: 11, lineHeight: '13px', color: '#FF0000', whiteSpace: 'nowrap' }}>
        © private Wetterstation Tinnum/Westerland/Sylt
      </div>
      <div style={abs(1242, 24, { fontSize: 10, lineHeight: '12px' })}>°</div>

      {/* Unit + legend */}
      <div style={abs(6, 26, { ...t11, color: '#0000FF' })}>km/h</div>
      <div style={abs(50, 33, { width: 10, height: 10, boxSizing: 'border-box', background: '#0000FF', border: '1px solid #000040' })} />
      <div style={abs(64, 31, { ...t11, color: '#0000FF' })}>Windgeschw</div>
      <div style={abs(145, 33, { width: 10, height: 10, boxSizing: 'border-box', background: '#000000' })} />
      <div style={abs(159, 31, { ...t11, color: '#000000' })}>Richtung</div>
      <div style={abs(241, 33, { width: 10, height: 10, boxSizing: 'border-box', background: '#FF0000', border: '1px solid #400000' })} />
      <div style={abs(254, 31, { ...t11, color: '#0000FF' })}>Windböen</div>

      {/* Sun / moon labels under the axis */}
      <div style={abs(10, 456, { fontSize: 12, lineHeight: '14px' })}>14:59</div>
      <div style={abs(40, 461, { width: 9, height: 5, background: '#FFFF00', borderRadius: '5px 5px 1px 1px' })} />
      <div style={abs(251, 458, { width: 11, height: 11, background: '#000080' })}>
        <div style={abs(1, 1, { width: 4, height: 4, borderRadius: 2, background: '#ffffff' })} />
        <div style={abs(5, 4, { width: 2, height: 6, background: '#FFFF00' })} />
      </div>
      <div style={abs(263, 456, { fontSize: 12, lineHeight: '14px' })}>04:19</div>
      <div style={abs(307, 456, { fontSize: 12, lineHeight: '14px' })}>06:00</div>
      <div
        style={abs(337, 459, {
          width: 8,
          height: 8,
          borderRadius: 4,
          background: '#FFFF00',
          boxShadow: '0 0 2px 2px #ffffa0',
        })}
      />
      <div style={abs(1057, 456, { fontSize: 12, lineHeight: '14px' })}>21:00</div>
      <div style={abs(1087, 461, { width: 6, height: 6, boxSizing: 'border-box', border: '1px solid #FFFF00' })} />
      <div style={abs(1096, 458, { width: 11, height: 11, background: '#000080' })}>
        <div style={abs(6, 6, { width: 4, height: 4, borderRadius: 2, background: '#ffffff' })} />
        <div style={abs(3, 1, { width: 2, height: 6, background: '#FFFF00' })} />
      </div>
      <div style={abs(1107, 456, { fontSize: 12, lineHeight: '14px' })}>21:13</div>

      {/* Table separators */}
      {[
        [88, 471],
        [559, 472],
        [677, 472],
        [796, 472],
        [1278, 472],
      ].map(([x, y]) => (
        <div key={x} style={abs(x, y, { width: 1, height: 552 - y, background: '#a0a0a0' })} />
      ))}

      {/* Table text */}
      {rowLabels.map((s, i) => (
        <div key={'r' + i} style={abs(9, rowTop(i), { ...t11, fontWeight: 'bold' })}>
          {s}
        </div>
      ))}
      {speedLeft.map((s, i) =>
        s ? (
          <div key={'sl' + i} style={abs(i === 2 ? 455 : 448, rowTop(i), { ...t11, fontWeight: i === 0 ? 'bold' : 'normal' })}>
            {s}
          </div>
        ) : null
      )}
      {speedRight.map((s, i) =>
        s ? (
          <div
            key={'sr' + i}
            style={{ position: 'absolute', right: 1280 - 550, top: rowTop(i), ...t11, whiteSpace: 'nowrap', fontWeight: i === 4 ? 'bold' : 'normal' }}
          >
            {s}
          </div>
        ) : null
      )}
      {gustLeft.map((s, i) =>
        s ? (
          <div key={'gl' + i} style={abs(i === 2 ? 572 : 566, rowTop(i), { ...t11, fontWeight: i === 0 ? 'bold' : 'normal' })}>
            {s}
          </div>
        ) : null
      )}
      {gustRight.map((s, i) =>
        s ? (
          <div
            key={'gr' + i}
            style={{
              position: 'absolute',
              right: 1280 - 671,
              top: rowTop(i),
              ...t11,
              whiteSpace: 'nowrap',
              fontWeight: i === 0 || i === 4 ? 'bold' : 'normal',
            }}
          >
            {s}
          </div>
        ) : null
      )}
      {dirLeft.map((s, i) =>
        s ? (
          <div
            key={'dl' + i}
            style={abs(i === 0 ? 685 : i === 4 ? 687 : 692, rowTop(i), { ...t11, fontWeight: i === 0 ? 'bold' : 'normal' })}
          >
            {s}
          </div>
        ) : null
      )}
      {dirRight.map((s, i) =>
        s ? (
          <div
            key={'dr' + i}
            style={{ position: 'absolute', right: 1280 - 788, top: rowTop(i), ...t11, whiteSpace: 'nowrap', fontWeight: i === 4 ? 'bold' : 'normal' }}
          >
            {s}
          </div>
        ) : null
      )}
    </div>
  );
}
